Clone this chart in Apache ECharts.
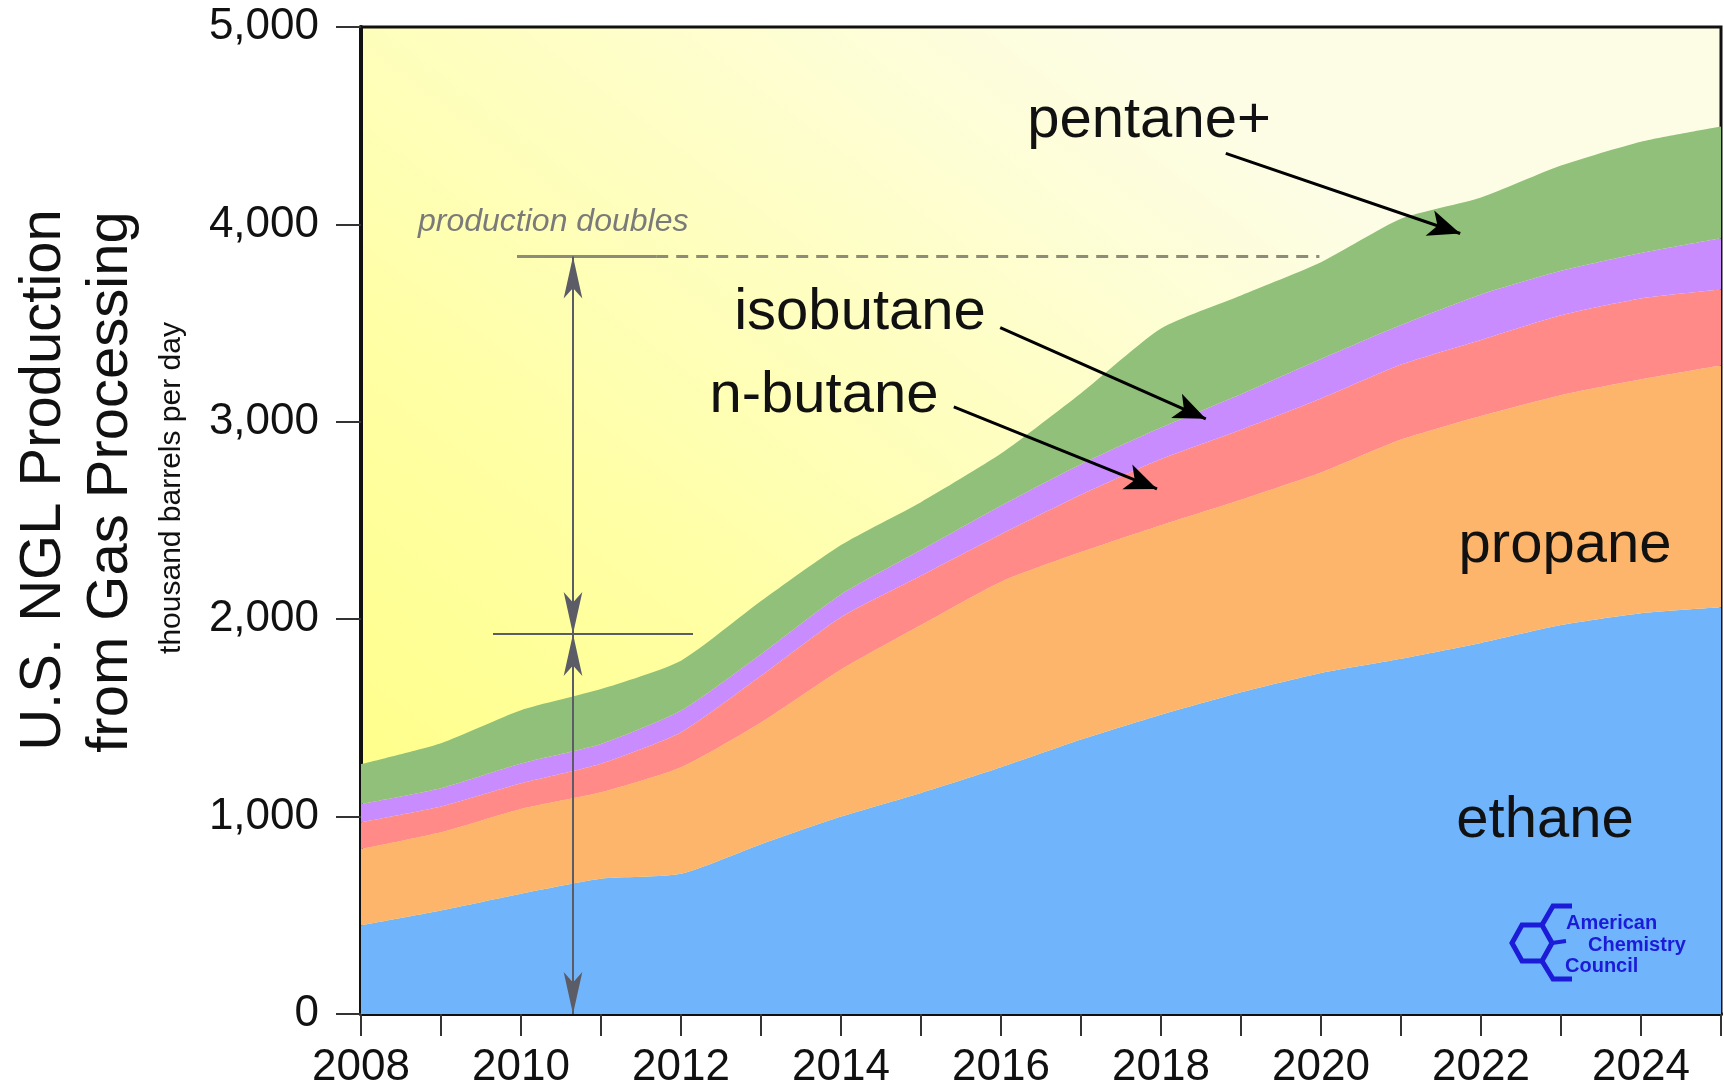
<!DOCTYPE html>
<html>
<head>
<meta charset="utf-8">
<script src="https://cdn.jsdelivr.net/npm/echarts/dist/echarts.min.js"></script>
<style>
  html, body { margin: 0; padding: 0; background: #ffffff; }
  #main { width: 1724px; height: 1092px; }
</style>
</head>
<body>
<div id="main"></div>
<script>
// years on the x axis
var years = ["2008", "2009", "2010", "2011", "2012", "2013", "2014", "2015", "2016", "2017", "2018", "2019", "2020", "2021", "2022", "2023", "2024", "2025"];

// thousand barrels per day
var ethane    = [449, 524, 609, 685, 710, 860, 1000, 1120, 1250, 1390, 1516, 1630, 1728, 1800, 1880, 1970, 2030, 2060];
var propane   = [387, 397, 430, 438, 540, 617, 745, 850, 940, 950, 960, 975, 1015, 1110, 1150, 1165, 1185, 1225];
var nButane   = [135, 130, 130, 145, 177, 236, 265, 250, 240, 290, 335, 355, 375, 380, 385, 405, 410, 385];
var isobutane = [93, 93, 100, 100, 110, 110, 115, 130, 145, 155, 160, 180, 200, 200, 230, 225, 230, 260];
var pentane   = [202, 228, 270, 278, 253, 269, 251, 243, 264, 360, 502, 500, 490, 538, 491, 533, 564, 566];

var yTicks = [0, 1000, 2000, 3000, 4000, 5000];

var chartDom = document.getElementById("main");
var myChart = echarts.init(chartDom);

function areaSeries(name, arr, color) {
  return {
    name: name,
    type: "line",
    stack: "total",
    xAxisIndex: 0,
    data: arr,
    smooth: 0.2,
    showSymbol: false,
    silent: true,
    lineStyle: { width: 0 },
    areaStyle: { color: color, opacity: 1 },
    itemStyle: { color: color },
  };
}

var blackLine = { color: "#000", width: 3, type: "solid" };
var grayLine = { color: "#5c5c66", width: 2, type: "solid" };
var oliveLine = { color: "#8c8c78", width: 3, type: "solid" };
var oliveDash = { color: "#8c8c78", width: 3, type: [12, 8] };

function seg(x1, y1, x2, y2, style, s1, s2, size) {
  return [
    { coord: [x1, y1], symbol: s1, symbolSize: size, lineStyle: style },
    { coord: [x2, y2], symbol: s2, symbolSize: size },
  ];
}

// text on top of the areas
function label(text, x, y, size, extra) {
  var style = {
    text: text,
    fontSize: size,
    fontFamily: "Liberation Sans",
    fill: "#111",
    textAlign: "center",
    textVerticalAlign: "middle",
  };
  for (var k in extra || {}) style[k] = extra[k];
  return { type: "text", x: x, y: y, z: 100, style: style };
}

var accBlue = "#1b1bd8";
function accLine(points, w) {
  return { type: "polyline", z: 100, shape: { points: points }, style: { stroke: accBlue, lineWidth: w, fill: null } };
}
var accFont = { fontWeight: "bold", fontFamily: "Liberation Sans Narrow, Liberation Sans", fill: accBlue, textAlign: "left" };

var option = {
  backgroundColor: "#ffffff",
  animation: false,
  grid: {
    left: 361,
    right: 3,
    top: 27,
    bottom: 78,
    show: true,
    borderColor: "#111",
    borderWidth: 3,
    backgroundColor: new echarts.graphic.LinearGradient(0, 1, 0.55, 0, [
      { offset: 0, color: "#ffff7e" },
      { offset: 0.45, color: "#ffffa6" },
      { offset: 1, color: "#fdfde6" },
    ]),
  },
  xAxis: [
    {
      type: "category",
      data: years,
      boundaryGap: false,
      splitLine: { show: false },
      axisLine: { lineStyle: { color: "#111", width: 4 } },
      axisTick: { interval: 0, length: 22, lineStyle: { color: "#333", width: 2 } },
      axisLabel: {
        interval: 1,
        margin: 32,
        fontSize: 44,
        fontFamily: "Liberation Sans",
        color: "#111",
      },
    },
    {
      // hidden numeric twin, used only to place the notes
      type: "value",
      min: 2008,
      max: 2025,
      show: false,
    },
  ],
  yAxis: {
    type: "value",
    min: yTicks[0],
    max: yTicks[yTicks.length - 1],
    interval: 1000,
    splitLine: { show: false },
    axisLine: { show: true, lineStyle: { color: "#111", width: 4 } },
    axisTick: { show: true, length: 25, lineStyle: { color: "#333", width: 2 } },
    axisLabel: {
      margin: 42,
      fontSize: 44,
      fontFamily: "Liberation Sans",
      color: "#111",
      formatter: function (v) {
        return v.toLocaleString("en-US");
      },
    },
  },
  series: [
    areaSeries("ethane", ethane, "#70b5fc"),
    areaSeries("propane", propane, "#fdb56c"),
    areaSeries("n-butane", nButane, "#ff8a87"),
    areaSeries("isobutane", isobutane, "#c98cff"),
    areaSeries("pentane+", pentane, "#90c079"),
    {
      name: "notes",
      type: "line",
      xAxisIndex: 1,
      data: [[2008, 0]],
      showSymbol: false,
      lineStyle: { width: 0 },
      silent: true,
      z: 10,
      markLine: {
        silent: true,
        animation: false,
        label: { show: false },
        emphasis: { disabled: true },
        lineStyle: { type: "solid" },
        data: [
          // production doubles: solid + dashed line at ~3840
          seg(2009.95, 3837, 2011.69, 3837, oliveLine, "none", "none", 1),
          seg(2011.69, 3837, 2019.98, 3837, oliveDash, "none", "none", 1),
          // cross bar at ~1920
          seg(2009.65, 1925, 2012.15, 1925, grayLine, "none", "none", 1),
          // double arrows
          seg(2010.65, 0, 2010.65, 1925, grayLine, "arrow", "arrow", [14, 42]),
          seg(2010.65, 1925, 2010.65, 3837, grayLine, "arrow", "arrow", [14, 42]),
          // label pointers
          seg(2018.81, 4360, 2021.74, 3954, blackLine, "none", "arrow", [20, 32]),
          seg(2015.99, 3477, 2018.56, 3015, blackLine, "none", "arrow", [20, 32]),
          seg(2015.41, 3076, 2017.95, 2660, blackLine, "none", "arrow", [20, 32]),
        ],
      },
    },
  ],
  graphic: [
    {
      type: "text", x: 44, y: 480, z: 100, rotation: Math.PI / 2,
      style: { text: "U.S. NGL Production", fontSize: 58, fontFamily: "Liberation Sans", fill: "#111", textAlign: "center", textVerticalAlign: "middle" },
    },
    {
      type: "text", x: 111, y: 482, z: 100, rotation: Math.PI / 2,
      style: { text: "from Gas Processing", fontSize: 58, fontFamily: "Liberation Sans", fill: "#111", textAlign: "center", textVerticalAlign: "middle" },
    },
    {
      type: "text", x: 172, y: 488, z: 100, rotation: Math.PI / 2,
      style: { text: "thousand barrels per day", fontSize: 30, fontFamily: "Liberation Sans", fill: "#111", textAlign: "center", textVerticalAlign: "middle" },
    },
    label("production doubles", 418, 222, 32, { fontStyle: "italic", fill: "#7a7a7a", textAlign: "left" }),
    label("pentane+", 1149, 121, 58),
    label("isobutane", 860, 313, 58),
    label("n-butane", 824, 396, 58),
    label("propane", 1565, 546, 58),
    label("ethane", 1545, 821, 58),
    // ACC logo
    accLine([[1552, 943], [1542, 925], [1522, 925], [1512, 943], [1522, 961], [1542, 961], [1552, 943]], 5),
    accLine([[1542, 925], [1553, 906], [1572, 906]], 5),
    accLine([[1542, 961], [1553, 979], [1572, 979]], 5),
    accLine([[1552, 943], [1566, 941]], 4),
    label("American", 1566, 923, 20, accFont),
    label("Chemistry", 1588, 945, 20, accFont),
    label("Council", 1565, 966, 20, accFont),
  ],
};

myChart.setOption(option);
</script>
</body>
</html>
